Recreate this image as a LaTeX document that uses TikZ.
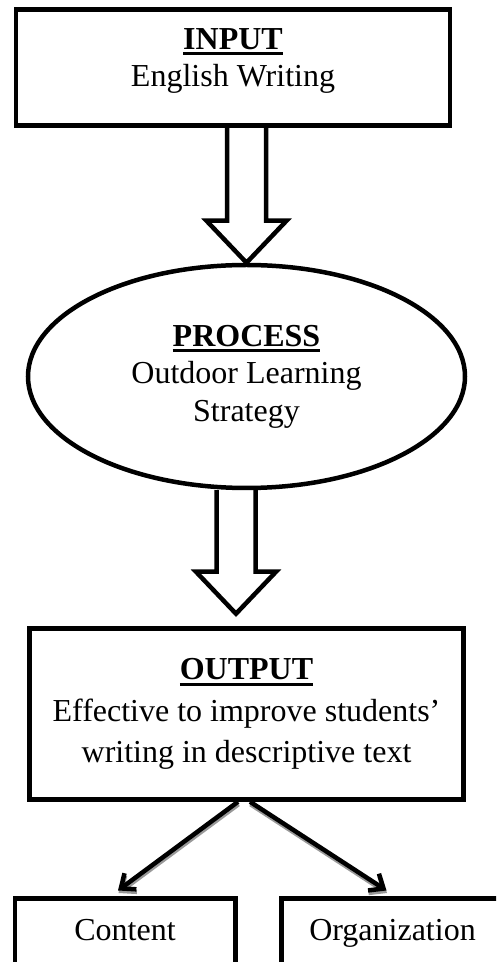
\documentclass[tikz,border=0pt]{standalone}
\usepackage{fontspec}
\setmainfont{Liberation Serif}
\usetikzlibrary{calc,arrows.meta,shapes.geometric}

% bold heading with a heavy underline
\newcommand\boxtitle[1]{\setbox0=\hbox{\bfseries #1}\rlap{\rule[-6pt]{\wd0}{3pt}}\box0}
% hollow block arrow, shaft from #1 straight down to the tip #2
\newcommand\fatarrow[2]{%
  \draw[fat arrow] let \p1=#1, \p2=#2 in
    (\x2-19.5pt,\y1) -- (\x2-19.5pt,\y2+42pt) -- (\x2-40pt,\y2+42pt) -- (\x2,\y2)
    -- (\x2+40pt,\y2+42pt) -- (\x2+19.5pt,\y2+42pt) -- (\x2+19.5pt,\y1);}

\begin{document}
\begin{tikzpicture}[x=1pt, y=1pt, line width=4.5pt, font=\fontsize{32}{37.5}\selectfont,
    stage/.style={draw, rectangle, inner sep=0pt, align=center},
    leaf/.style={stage, anchor=north, minimum height=90pt, text height=22pt, text depth=29pt},
    fat arrow/.style={line width=4.5pt, line join=miter},
    link/.style={line width=4.5pt, -{Straight Barb[length=12pt,width=20pt]},
      preaction={draw=black!40, line width=4.5pt, -{Straight Barb[length=12pt,width=20pt]},
        transform canvas={shift={(0.5pt,-2.5pt)}}}}]
  \useasboundingbox (0,0) rectangle (496,962);
  \clip (0,0) rectangle (496,962);

  \node[stage, minimum width=434pt, minimum height=116pt, text depth=20pt]
    (input) at (233,894.5) {\boxtitle{INPUT}\\English Writing};
  \node[stage, ellipse, minimum width=437pt, minimum height=223pt]
    (process) at (246.5,585.5) {\boxtitle{PROCESS}\\Outdoor Learning\\Strategy};
  \node[stage, minimum width=434pt, minimum height=171pt]
    (output) at (246.5,248) {\boxtitle{OUTPUT}\\[4pt]Effective to improve students'\\[4pt]writing in descriptive text};
  \node[leaf, minimum width=220.5pt] (content) at (125,65.5) {Content};
  \node[leaf, minimum width=222pt] (organization) at (392.5,65.5) {Organization};

  \fatarrow{(input.south -| process.north)}{(process.north)}
  \fatarrow{($(process.south)+(-10.5,0)$)}{($(output.north)+(-10.5,12.5)$)}

  \draw[link] ($(output.south)+(-8.5,0)$) -- ($(content.north)+(-7,6)$);
  \draw[link] ($(output.south)+(3.5,0)$) -- ($(organization.north)+(-6,6)$);
\end{tikzpicture}
\end{document}
